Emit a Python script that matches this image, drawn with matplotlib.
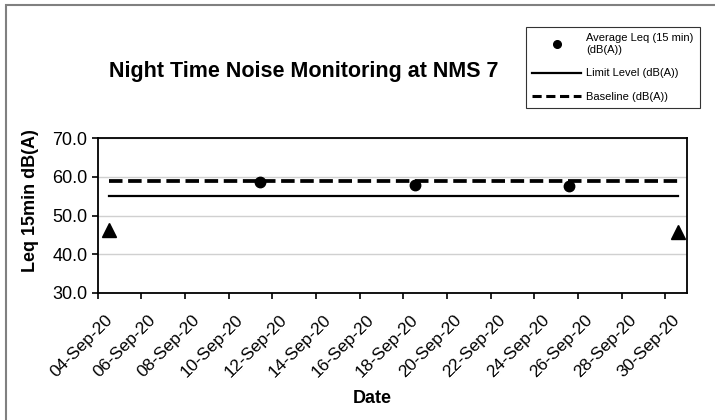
import pandas as pd
import matplotlib.pyplot as plt
import matplotlib.dates as mdates
import matplotlib.transforms as mtransforms
from matplotlib.lines import Line2D
from matplotlib.patches import Rectangle

plt.rcParams['font.family'] = ['Liberation Sans', 'DejaVu Sans']

# Data
avg_dates = pd.to_datetime(['2020-09-11 11:00', '2020-09-18 13:00', '2020-09-25 14:00'])
avg_leq = [58.6, 57.9, 57.6]
tri_dates = pd.to_datetime(['2020-09-04 12:00', '2020-09-30 14:00'])
tri_leq = [46.3, 45.8]
line_dates = pd.to_datetime(['2020-09-04 12:00', '2020-09-30 14:00'])
limit_level = [55.0, 55.0]
baseline = [59.0, 59.0]
tick_dates = pd.date_range('2020-09-04', '2020-09-30', freq='2D')

fig = plt.figure(figsize=(7.15, 4.2), dpi=100)
ax = fig.add_axes([0.1366, 0.3024, 0.8244, 0.3690])

dash = (0, (3.6, 1.5))
ax.plot(line_dates, baseline, color='black', lw=2.7, ls=dash, zorder=2)
ax.plot(line_dates, limit_level, color='black', lw=1.6, zorder=2)
ax.plot(avg_dates, avg_leq, 'o', color='black', ms=7.5, zorder=3)
ax.plot(tri_dates, tri_leq, '^', color='black', ms=10.5, zorder=3)

ax.set_xlim(pd.Timestamp('2020-09-04'), pd.Timestamp('2020-10-01'))
ax.set_ylim(30, 70)
ax.set_yticks([30, 40, 50, 60, 70])
ax.yaxis.set_major_formatter(plt.FormatStrFormatter('%.1f'))
ax.set_xticks(tick_dates)
ax.xaxis.set_major_formatter(mdates.DateFormatter('%d-%b-%y'))
ax.grid(axis='y', color='#d0d0d0', lw=1)
ax.set_axisbelow(True)

for s in ax.spines.values():
    s.set_linewidth(1.3)
    s.set_color('black')

ax.tick_params(axis='y', labelsize=13, length=4, width=1.2, direction='out')
ax.tick_params(axis='x', labelsize=12.5, length=4, width=1.2, direction='out')
plt.setp(ax.get_xticklabels(), rotation=45, ha='right', rotation_mode='anchor')

fig.text(0.043, 0.522, 'Leq 15min dB(A)', rotation=90, ha='center', va='center',
         fontsize=13, fontweight='bold')
fig.text(0.520, 0.052, 'Date', ha='center', va='center', fontsize=13, fontweight='bold')
fig.text(0.425, 0.829, 'Night Time Noise Monitoring at NMS 7', ha='center', va='center',
         fontsize=15.5, fontweight='bold')

handles = [
    Line2D([], [], marker='o', color='black', ls='none', ms=5.5),
    Line2D([], [], color='black', lw=1.6),
    Line2D([], [], color='black', lw=2.2, ls=(0, (3, 1.5))),
]
labels = ['Average Leq (15 min)\n(dB(A))', 'Limit Level (dB(A))', 'Baseline (dB(A))']
leg = fig.legend(handles, labels, loc='upper left', bbox_to_anchor=(0.7357, 0.936),
                 borderaxespad=0, fontsize=8, frameon=True, fancybox=False,
                 handlelength=4.4, handletextpad=0.45, labelspacing=1.25,
                 borderpad=0.55)
leg.get_frame().set_edgecolor('black')
leg.get_frame().set_linewidth(0.8)

fig.patches.append(Rectangle((0.009, -0.2), 1.2, 1.188, transform=fig.transFigure,
                             fill=False, edgecolor='#808080', lw=1.5))

# shift the date labels a little down and right, like the original
offset = mtransforms.ScaledTranslation(0.07, -0.09, fig.dpi_scale_trans)
for lbl in ax.get_xticklabels():
    lbl.set_transform(lbl.get_transform() + offset)

fig.savefig('out.png', dpi=100)
